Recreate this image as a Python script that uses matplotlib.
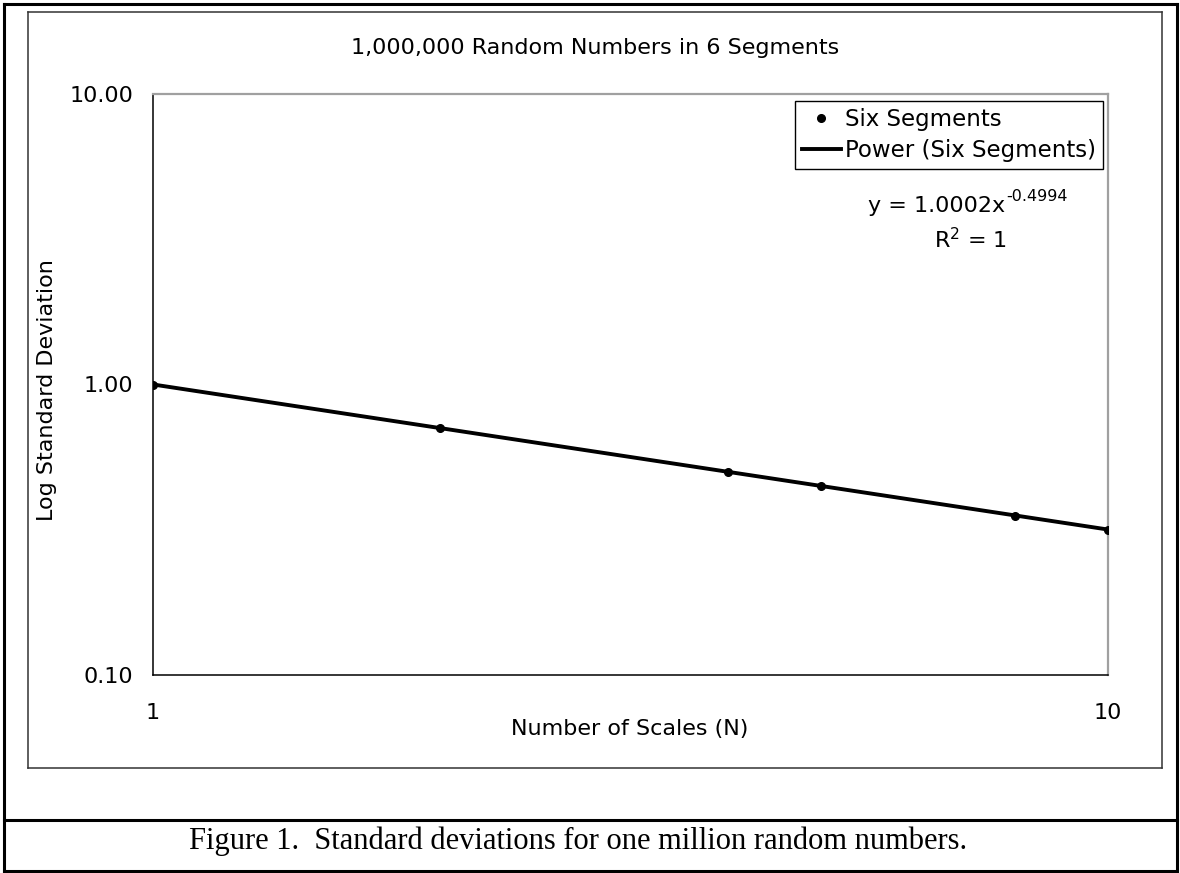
import numpy as np
import matplotlib
matplotlib.use('Agg')
import matplotlib.pyplot as plt
from matplotlib.lines import Line2D
from matplotlib.ticker import FixedLocator, FuncFormatter, NullLocator

# number of scales and the standard deviation measured at each one
scales = [1, 2, 4, 5, 8, 10]
std_dev = [1.00, 0.707, 0.500, 0.447, 0.354, 0.316]

# power trendline reported for the series
fit_a = 1.0002
fit_b = -0.4994
fit_r2 = 1

y_ticks = [0.1, 1, 10]
x_ticks = [1, 10]

W, H = 1180, 873
plt.rcParams['font.family'] = ['DejaVu Sans']
fig = plt.figure(figsize=(W / 100, H / 100), dpi=100)


def fx(x):
    return x / W


def fy(y):
    return 1 - y / H


def frame_line(x0, y0, x1, y1, lw, color='black'):
    fig.add_artist(Line2D([fx(x0), fx(x1)], [fy(y0), fy(y1)], lw=lw, color=color,
                          transform=fig.transFigure, solid_capstyle='projecting'))


# page border and caption divider
frame_line(4, 4, 1177, 4, 2.2)
frame_line(4, 4, 4, 871, 2.2)
frame_line(1177, 4, 1177, 871, 2.2)
frame_line(4, 871, 1177, 871, 2.2)
frame_line(4, 820, 1177, 820, 2.2)

# chart area border
frame_line(28, 12, 1162, 12, 1.1, '#333333')
frame_line(28, 768, 1162, 768, 1.1, '#333333')
frame_line(28, 12, 28, 768, 1.1, '#333333')
frame_line(1162, 12, 1162, 768, 1.1, '#333333')

left, top, right, bottom = 153, 94, 1108, 675
ax = fig.add_axes([fx(left), fy(bottom), fx(right - left), (bottom - top) / H])
ax.set_xscale('log')
ax.set_yscale('log')
ax.set_xlim(1, 10)
ax.set_ylim(0.1, 10)

xs = np.logspace(0, 1, 200)
ax.plot(xs, fit_a * xs ** fit_b, color='black', lw=2.8, label='Power (Six Segments)', zorder=2)
ax.plot(scales, std_dev, 'o', color='black', ms=5.5, label='Six Segments', zorder=3)

ax.xaxis.set_major_locator(FixedLocator(x_ticks))
ax.yaxis.set_major_locator(FixedLocator(y_ticks))
ax.xaxis.set_minor_locator(NullLocator())
ax.yaxis.set_minor_locator(NullLocator())
ax.xaxis.set_major_formatter(FuncFormatter(lambda v, p: '%d' % v))
ax.yaxis.set_major_formatter(FuncFormatter(lambda v, p: '%.2f' % v))
ax.tick_params(axis='both', length=0, labelsize=16, colors='black')
ax.tick_params(axis='y', pad=14)
ax.tick_params(axis='x', pad=20)

for side in ['left', 'bottom']:
    ax.spines[side].set_color('black')
    ax.spines[side].set_linewidth(1.1)
for side in ['top', 'right']:
    ax.spines[side].set_color('#a0a0a0')
    ax.spines[side].set_linewidth(1.6)

handles, labels = ax.get_legend_handles_labels()
leg = ax.legend(handles[::-1], labels[::-1], loc='upper right',
                bbox_to_anchor=(1 - 5 / (right - left), 1 - 7 / (bottom - top)),
                prop={'size': 16.5}, frameon=True, fancybox=False, edgecolor='black',
                framealpha=1, borderpad=0.3, borderaxespad=0, handlelength=1.7,
                handletextpad=0.2, labelspacing=0.35)
leg.get_frame().set_linewidth(1.0)

# trendline equation, exponent set as a raised smaller label
eq = fig.text(fx(868), fy(212), 'y = %.4fx' % fit_a, fontsize=16, ha='left', va='baseline')
ax.annotate('%.4f' % fit_b, xy=(1, 1), xycoords=eq, xytext=(1, 5),
            textcoords='offset points', fontsize=11.5, ha='left', va='top')
fig.text(fx(971), fy(240), r'R$^{2}$ = %d' % fit_r2, fontsize=16, ha='center', va='center')

fig.text(fx(595), fy(48), '1,000,000 Random Numbers in 6 Segments', fontsize=16,
         ha='center', va='center')
fig.text(fx(47), fy(390), 'Log Standard Deviation', fontsize=16, rotation=90,
         ha='center', va='center')
fig.text(fx(630), fy(729), 'Number of Scales (N)', fontsize=16, ha='center', va='center')

fig.text(fx(578), fy(841), 'Figure 1.  Standard deviations for one million random numbers.',
         fontsize=22, family='Liberation Serif', ha='center', va='center')

fig.savefig('out.png', dpi=100)
